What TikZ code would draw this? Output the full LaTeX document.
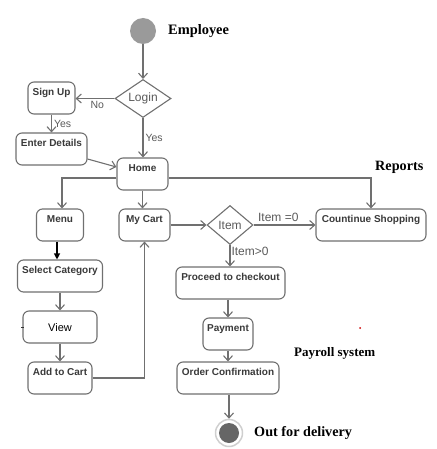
\documentclass[tikz,border=0pt]{standalone}
\usepackage{fontspec}
\setmainfont{Liberation Serif}
\setsansfont{Liberation Sans}
\usetikzlibrary{arrows.meta,shapes.geometric}
\definecolor{edge}{HTML}{707070}
\definecolor{boxtext}{HTML}{3A3A3A}
\definecolor{labtext}{HTML}{5A5A5A}
\definecolor{startgray}{HTML}{9A9A9A}
\definecolor{ringgray}{HTML}{CFCFCF}
\definecolor{endgray}{HTML}{666666}
\begin{document}
\begin{tikzpicture}[x=1pt,y=-1pt,
  act/.style={draw=edge,line width=1.1pt,rounded corners=6pt,fill=white,
    font=\sffamily\bfseries\fontsize{10}{12}\selectfont,text=boxtext,
    inner xsep=2pt,inner ysep=2pt,text height=11.6pt,text depth=16.4pt},
  dec/.style={diamond,draw=edge,line width=1.1pt,inner sep=0pt,aspect=1.5,
    font=\sffamily\fontsize{12}{14}\selectfont,text=labtext},
  flow/.style={draw=edge,line width=1.1pt,-{Straight Barb[length=5pt,width=9pt]}},
  lbl/.style={font=\sffamily\fontsize{10.5}{12}\selectfont,text=labtext,inner sep=2pt},
  note/.style={anchor=west,inner sep=0pt}]
  \useasboundingbox (0,0) rectangle (436,449);

  % start and login
  \node[circle,fill=startgray,minimum size=26pt] (start) at (143,31) {};
  \node[note,font=\bfseries\fontsize{14.4}{16}\selectfont] (employee) at (168,31) {Employee};
  \node[dec,minimum width=56pt,minimum height=38pt] (login) at (143,98.5) {Login};
  \node[act,minimum width=47pt] (signup) at (51.5,98) {Sign Up};
  \node[act,minimum width=71pt] (enter) at (51.5,149) {Enter Details};
  \node[act,minimum width=51pt] (home) at (142.5,174) {Home};
  \node[note,font=\bfseries\fontsize{14.2}{16}\selectfont] (reports) at (375,167) {Reports};

  % shopping
  \node[act,minimum width=47pt] (menu) at (60,225) {Menu};
  \node[act,minimum width=51pt] (cart) at (144.5,225) {My Cart};
  \node[dec,minimum width=46pt,minimum height=39pt] (item) at (230,225) {Item};
  \node[act,minimum width=110pt] (shop) at (371,225) {Countinue Shopping};
  \node[act,minimum width=85pt] (cat) at (60,276) {Select Category};
  \node[act,minimum width=74pt,font=\sffamily\fontsize{11}{13}\selectfont,text=black,
    text height=18pt,text depth=10pt] (view) at (60,327) {View};
  \node[act,minimum width=64pt] (addcart) at (60,378) {Add to Cart};

  % checkout
  \node[act,minimum width=109pt] (checkout) at (230.5,283) {Proceed to checkout};
  \node[act,minimum width=50pt] (pay) at (228,334) {Payment};
  \node[act,minimum width=102pt] (confirm) at (228,378) {Order Confirmation};
  \node[note,font=\bfseries\fontsize{13}{15}\selectfont] (payroll) at (294,353) {Payroll system};
  \node[circle,draw=ringgray,line width=1.5pt,fill=white,minimum size=27pt] (stop) at (229,433) {};
  \node[circle,fill=endgray,minimum size=20pt] (stopdot) at (stop) {};
  \node[note,font=\bfseries\fontsize{14.2}{16}\selectfont] (delivery) at (254,433) {Out for delivery};

  \draw[flow] (start) -- (login);
  \draw[flow] (login.west) -- node[lbl,below,pos=0.44]{No} (login.west -| signup.east);
  \draw[flow] (signup) -- node[lbl,right]{Yes} (enter);
  \draw[flow] (login.south) -- node[lbl,right]{Yes} (login.south |- home.north);
  \draw[flow] ([yshift=-10pt]enter.east) -- ([yshift=7pt]home.west);
  \draw[flow] ([yshift=-4pt]home.west) -| ([xshift=2pt]menu.north);
  \draw[flow] (home.south) -- (home.south |- cart.north);
  \draw[flow] ([yshift=-4pt]home.east) -| (shop.north);
  \draw[-{Triangle[length=6pt,width=6pt]},line width=1.1pt] ([xshift=-3pt]menu.south) -- ([xshift=-3pt]cat.north);
  \draw[flow] (cat) -- (view);
  \draw[flow] (view) -- (addcart);
  \draw[flow] (addcart.east) -| (cart.south);
  \draw[flow] (cart) -- (item);
  \draw[flow] (item) -- node[lbl,above,pos=0.4,inner sep=3pt,font=\sffamily\fontsize{12}{14}\selectfont]{Item =0} (shop);
  \draw[flow] (item.south) -- node[lbl,right,pos=0.3,inner sep=1pt,font=\sffamily\fontsize{12}{14}\selectfont]{Item>0} (item.south |- checkout.north);
  \draw[flow] (checkout.south -| pay.north) -- (pay);
  \draw[flow] (pay) -- (confirm);
  \draw[flow] (confirm.south -| stop.north) -- (stop);

  % stray marks
  \draw[line width=1pt,black!80] (21,327) -- (24,327);
  \fill[red!80!black] (360,328) circle (1pt);
\end{tikzpicture}
\end{document}
